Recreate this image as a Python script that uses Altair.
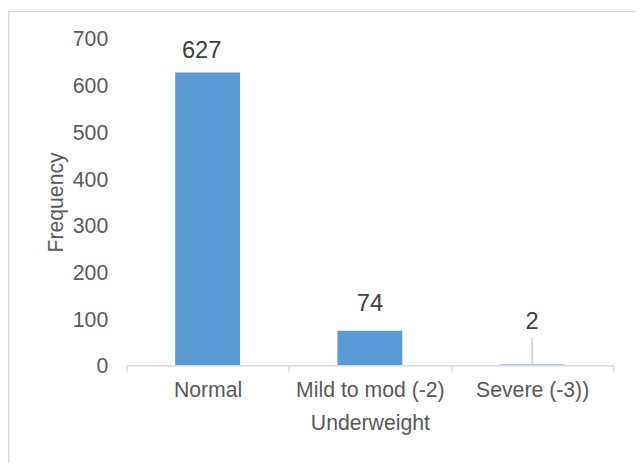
import altair as alt
import pandas as pd

# ---- data ----
categories = ["Normal", "Mild to mod (-2)", "Severe (-3))"]
frequency = [627, 74, 2]
x_title = "Underweight"
y_title = "Frequency"
y_ticks = [0, 100, 200, 300, 400, 500, 600, 700]

df = pd.DataFrame({"category": categories, "value": frequency})
frame_df = pd.DataFrame({"k": [0]})

FONT = "Liberation Sans"
W, H = 493, 331
PAD_L, PAD_T, PAD_R, PAD_B = 120, 28, 23, 99
GRID = "#D9D9D9"
TXT = "#595959"

x_enc = alt.X(
    "category:N",
    sort=categories,
    scale=alt.Scale(paddingInner=0, paddingOuter=0),
    axis=alt.Axis(
        title=x_title,
        labelAngle=0,
        tickBand="extent",
        domainColor=GRID,
        domainWidth=1.5,
        tickColor=GRID,
        tickWidth=1.5,
        tickSize=6,
        labelFont=FONT,
        labelFontSize=21.5,
        labelColor=TXT,
        labelPadding=26,
        labelBaseline="alphabetic",
        titleFont=FONT,
        titleFontSize=21.5,
        titleFontWeight="normal",
        titleColor=TXT,
        titleX=W / 2,
        titleY=64.7,
        titleBaseline="alphabetic",
        titleAlign="center",
        zindex=1,
    ),
)

y_enc = alt.Y(
    "value:Q",
    scale=alt.Scale(domain=[0, 700], nice=False, zero=True),
    axis=alt.Axis(
        title=y_title,
        values=y_ticks,
        grid=False,
        ticks=False,
        domain=False,
        labelFont=FONT,
        labelFontSize=21.5,
        labelColor=TXT,
        labelPadding=19,
        labelOffset=1.5,
        titleFont=FONT,
        titleFontSize=21.5,
        titleFontWeight="normal",
        titleColor=TXT,
        titleAngle=270,
        titleX=-65,
        titleY=H / 2,
        titleBaseline="alphabetic",
        titleAlign="center",
    ),
)

base = alt.Chart(df).encode(x=x_enc, y=y_enc)

bars = base.mark_bar(color="#5B9BD5", width=alt.RelativeBandSize(0.4))

label_style = dict(font=FONT, fontSize=24, color="#404040", baseline="alphabetic", align="center")
labels_big = base.transform_filter("datum.value > 500").mark_text(dx=-6, dy=-14.5, **label_style).encode(text="value:Q")
labels_mid = base.transform_filter("datum.value >= 10 && datum.value <= 500").mark_text(dy=-20, **label_style).encode(text="value:Q")
labels_small = base.transform_filter("datum.value < 10").mark_text(dy=-36, **label_style).encode(text="value:Q")

leader = base.transform_filter("datum.value < 10").mark_tick(
    orient="vertical", size=27, thickness=1.2, color="#A6A6A6", yOffset=-13.5
)

frame_top = alt.Chart(frame_df).mark_rule(color=GRID, strokeWidth=1.5).encode(
    x=alt.value(-PAD_L), x2=alt.value(W + PAD_R), y=alt.value(-PAD_T + 0.75)
)
frame_left = alt.Chart(frame_df).mark_rule(color=GRID, strokeWidth=1.5).encode(
    x=alt.value(-PAD_L + 0.75), y=alt.value(-PAD_T), y2=alt.value(H + PAD_B)
)

chart = (
    alt.layer(frame_top, frame_left, bars, leader, labels_big, labels_mid, labels_small)
    .properties(
        width=W,
        height=H,
        autosize=alt.AutoSizeParams(type="none"),
        padding={"left": PAD_L, "top": PAD_T, "right": PAD_R, "bottom": PAD_B},
        background="white",
    )
    .configure_view(stroke=None)
)

chart.save("out.html", embed_options={"renderer": "svg", "actions": False})
